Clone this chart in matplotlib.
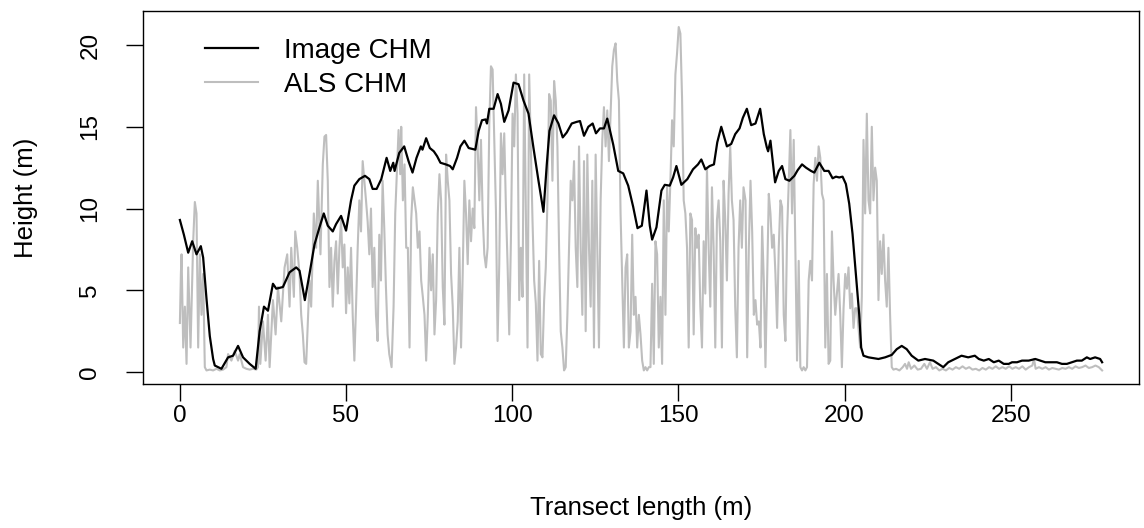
"""
Canopy height profile along a transect: image-based CHM vs ALS CHM.

Output:
    out.png
"""

import matplotlib

matplotlib.use("Agg")

import matplotlib.pyplot as plt

OUTPUT_PNG = "out.png"
DPI = 100
FIGURE_SIZE = (1144 / DPI, 528 / DPI)

IMAGE_COLOR = "#000000"
ALS_COLOR = "#BEBEBE"
FONT_SIZE = 17.5
LABEL_SIZE = 18.5
LEGEND_SIZE = 20

# Image CHM (smooth), digitised (x in m, height in m)
IMAGE_X = [
    0, 1.2, 2.5, 3.7, 5.0, 6.3, 7.0, 8.0, 9.0, 10.0, 10.5, 12.5, 14.5, 16.0,
    17.5, 19.0, 21.0, 22.8, 24.0, 25.3, 26.5, 28.0, 29.0, 31.0, 33.0, 35.0,
    36.0, 37.6, 39.0, 40.5, 42.0, 43.3, 44.5, 46.0, 47.0, 48.5, 50.0, 51.5,
    52.5, 54.0, 55.7, 57.0, 58.0, 59.2, 60.6, 62.2, 63.3, 64.2, 64.6, 66.0,
    67.5, 68.8, 70.0, 71.2, 72.5, 73.0, 74.1, 75.2, 76.4, 77.4, 78.4, 80.0,
    81.3, 82.1, 83.4, 84.4, 85.6, 86.9, 88.9, 89.9, 90.9, 92.0, 92.4, 93.1,
    94.4, 95.6, 96.6, 97.6, 98.9, 100.4, 101.9, 103.4, 104.9, 106.4, 107.9,
    109.4, 110.4, 111.2, 112.6, 113.9, 115.2, 116.4, 117.9, 119.4, 120.4,
    121.6, 122.9, 124.2, 125.2, 126.4, 127.6, 128.6, 130.4, 131.9, 133.4,
    134.9, 136.4, 137.7, 139.0, 140.4, 141.4, 142.1, 143.4, 144.9, 145.9,
    147.4, 148.4, 149.4, 150.9, 152.7, 154.4, 155.9, 156.9, 158.1, 159.4,
    160.7, 161.7, 162.9, 164.6, 165.9, 167.1, 168.4, 169.4, 170.6, 171.9,
    173.2, 174.6, 175.7, 176.6, 177.0, 177.7, 178.4, 179.1, 180.2, 181.2,
    182.2, 183.4, 184.9, 185.9, 187.2, 188.4, 189.9, 190.9, 192.4, 193.9,
    195.2, 196.4, 197.4, 198.4, 199.4, 200.4, 201.4, 202.4, 203.4, 204.4,
    205.0, 205.7, 207.2, 210.2, 212.2, 214.2, 215.7, 217.2, 218.7, 220.2,
    222.2, 224.2, 226.7, 228.2, 229.7, 231.2, 233.2, 235.2, 237.2, 239.2,
    240.4, 241.9, 243.4, 244.9, 246.4, 247.9, 249.4, 250.4, 251.9, 253.4,
    255.4, 257.4, 258.9, 260.4, 261.9, 263.9, 265.4, 266.9, 268.4, 269.9,
    271.4, 272.9, 273.9, 275.4, 276.9, 277.5,
]
IMAGE_Y = [
    9.3, 8.4, 7.3, 8.0, 7.2, 7.7, 7.0, 4.5, 2.2, 0.8, 0.4, 0.2, 0.9, 1.0,
    1.6, 0.9, 0.5, 0.2, 2.5, 4.0, 3.75, 5.4, 5.1, 5.2, 6.1, 6.4,
    6.2, 4.4, 6.0, 7.8, 8.85, 9.7, 8.95, 8.6, 9.05, 9.55, 8.65, 10.5,
    11.4, 11.8, 12.0, 11.8, 11.2, 11.2, 11.8, 13.1, 12.3, 12.8, 12.3, 13.4,
    13.8, 12.9, 12.2, 13.1, 13.8, 13.6, 14.3, 13.7, 13.5, 13.2, 12.8, 12.7,
    12.6, 12.4, 13.1, 13.8, 14.15, 13.7, 13.6, 14.75, 15.4, 15.45, 15.2, 16.1,
    16.1, 17.0, 16.4, 15.3, 16.0, 17.7, 17.6, 16.6, 15.8, 13.7, 11.7,
    9.8, 12.7, 14.75, 15.7, 15.2, 14.35, 14.65, 15.2, 15.3, 15.35,
    14.45, 15.0, 15.2, 14.6, 14.9, 14.9, 15.5, 13.9, 12.3, 12.15,
    11.4, 10.1, 8.8, 8.95, 11.1, 8.95, 8.1, 8.85, 11.1, 11.45,
    11.4, 11.9, 12.6, 11.45, 11.8, 12.4, 12.7, 13.0, 12.4, 12.6,
    12.7, 14.05, 15.0, 13.8, 13.95, 14.55, 14.9, 15.55, 16.1, 15.1,
    15.2, 16.1, 14.55, 13.75, 13.5, 14.15, 12.9, 11.6, 12.3, 12.6,
    11.8, 11.7, 12.0, 12.35, 12.7, 12.5, 12.3, 12.2, 12.8, 12.3,
    12.3, 11.85, 11.95, 11.9, 11.95, 11.5, 10.3, 8.45, 6.0, 3.55,
    1.5, 1.0, 0.9, 0.8, 0.9, 1.05, 1.4, 1.6, 1.4, 1.0,
    0.7, 0.8, 0.7, 0.5, 0.3, 0.6, 0.8, 1.0, 0.9, 1.0,
    0.8, 0.7, 0.8, 0.6, 0.7, 0.5, 0.5, 0.6, 0.6, 0.7,
    0.7, 0.8, 0.7, 0.6, 0.6, 0.6, 0.5, 0.5, 0.6, 0.7,
    0.7, 0.9, 0.8, 0.9, 0.8, 0.6,
]

# ALS CHM (spiky), digitised peaks and troughs
ALS_X = [
    0, 0.3, 0.5, 1.0, 1.5, 2.0, 2.5, 3.2, 4.0, 4.5, 5.0, 5.5, 6.0, 6.5, 7.0,
    7.5, 8.0, 9.0, 10.0, 11.0, 12.0, 13.0, 14.0, 14.5, 15.5, 16.5, 17.5,
    18.0, 19.0, 20.0, 21.0, 22.0, 23.0, 23.5, 23.8, 24.2, 25.0, 25.8, 26.5,
    27.0, 28.0, 28.8, 29.5, 30.5, 31.5, 32.3, 33.0, 33.5, 34.3, 34.7, 35.3,
    36.0, 36.5, 37.0, 37.5, 38.0, 38.5, 39.0, 39.5, 40.3, 41.0, 41.5, 42.3,
    43.0, 43.5, 44.0, 44.5, 45.0, 45.5, 46.0, 46.5, 47.0, 47.5, 48.0, 48.5,
    49.0, 49.5, 50.0, 50.5, 51.0, 51.5, 52.0, 52.5, 53.0, 53.5, 54.0, 54.5,
    55.0, 55.5, 56.0, 56.5, 57.0, 57.5, 58.0, 58.5, 59.0, 59.5, 60.0, 60.5,
    61.0, 61.5, 62.0, 62.5, 63.0, 63.7, 64.3, 64.8, 65.3, 65.8, 66.3, 66.6,
    67.1, 67.6, 68.1, 68.6, 69.1, 69.6, 70.1, 70.6, 71.1, 71.6, 72.1, 72.6,
    73.1, 73.6, 74.1, 74.6, 75.1, 75.6, 76.1, 76.6, 77.1, 77.6, 78.1, 78.6,
    79.1, 79.6, 80.1, 80.6, 81.1, 81.6, 82.1, 82.6, 83.1, 83.6, 84.1, 84.6,
    85.1, 85.6, 86.1, 86.6, 87.1, 87.6, 88.1, 88.6, 89.1, 89.6, 90.1, 90.6,
    91.1, 91.6, 92.1, 92.6, 93.1, 93.6, 94.1, 94.6, 95.1, 95.6, 96.1, 96.6,
    97.1, 97.6, 98.1, 98.6, 99.1, 99.6, 100.1, 100.6, 101.1, 101.6, 102.1,
    102.6, 103.1, 103.6, 104.1, 104.6, 105.1, 105.6, 106.1, 106.6, 107.1,
    107.6, 108.1, 108.6, 109.1, 109.6, 110.1, 110.6, 111.1, 111.6, 112.1,
    112.6, 113.1, 113.6, 114.1, 114.6, 115.1, 115.6, 116.1, 116.6, 117.1,
    117.6, 118.1, 118.6, 119.1, 119.6, 120.1, 120.6, 121.1, 121.6, 122.1,
    122.6, 123.1, 123.6, 124.1, 124.6, 125.1, 125.6, 126.1, 126.6, 127.1,
    127.6, 128.1, 128.6, 129.1, 129.6, 130.1, 130.6, 131.1, 131.6, 132.1,
    132.6, 133.1, 133.6, 134.1, 134.6, 135.1, 135.6, 136.1, 136.6, 137.1,
    137.6, 138.1, 138.6, 139.1, 139.6, 140.1, 140.6, 141.1, 141.6, 142.1,
    142.6, 143.1, 143.6, 144.1, 144.6, 145.1, 145.6, 146.1, 146.6, 147.1,
    147.6, 148.1, 148.6, 149.1, 149.6, 150.1, 150.6, 151.1, 151.6, 152.1,
    152.6, 153.1, 153.6, 154.1, 154.6, 155.1, 155.6, 156.1, 156.6, 157.1,
    157.6, 158.1, 158.6, 159.1, 159.6, 160.1, 160.6, 161.1, 161.6, 162.1,
    162.6, 163.1, 163.6, 164.1, 164.6, 165.1, 165.6, 166.1, 166.6, 167.1,
    167.6, 168.1, 168.6, 169.1, 169.6, 170.2, 170.7, 171.2, 171.7, 172.2,
    172.7, 173.2, 173.7, 174.2, 174.7, 175.2, 175.7, 176.2, 176.7, 177.2,
    177.7, 178.2, 178.7, 179.2, 179.7, 180.2, 180.7, 181.2, 181.7, 182.2,
    182.7, 183.2, 183.7, 184.2, 184.7, 185.2, 185.7, 186.2, 186.7, 187.2,
    187.7, 188.2, 188.7, 189.2, 189.7, 190.2, 190.7, 191.2, 191.7, 192.2,
    192.7, 193.2, 193.7, 194.2, 194.7, 195.2, 195.7, 196.2, 196.7, 197.2,
    197.7, 198.2, 198.7, 199.2, 199.7, 200.2, 200.7, 201.2, 201.7, 202.2,
    202.7, 203.2, 203.7, 204.2, 204.7, 205.2, 205.7, 206.2, 206.7, 207.2,
    207.7, 208.2, 208.7, 209.2, 209.7, 210.2, 210.7, 211.2, 211.7, 212.2,
    212.7, 213.2, 213.7, 214.2, 214.7, 215.5, 216.5, 217.5, 218.2, 218.8,
    219.3, 220.0, 221.0, 222.0, 223.0, 224.0, 224.8, 225.7, 226.5, 227.5,
    228.5, 229.5, 230.5, 231.5, 232.5, 233.5, 234.5, 235.5, 236.5, 237.5,
    238.5, 239.5, 240.5, 241.5, 242.5, 243.5, 244.5, 245.5, 246.5, 247.5,
    248.5, 249.5, 250.5, 251.5, 252.5, 253.5, 254.5, 255.5, 256.5, 257.0,
    257.5, 258.5, 259.5, 260.5, 261.5, 262.5, 263.5, 264.5, 265.5, 266.5,
    267.5, 268.5, 269.5, 270.5, 271.5, 272.5, 273.5, 274.5, 275.5, 276.5,
    277.5,
]
ALS_Y = [
    3.0, 6.0, 7.2, 1.5, 4.0, 0.5, 6.4, 1.5, 8.0, 10.4, 9.7, 1.5, 7.2, 3.5, 6.0,
    0.3, 0.1, 0.15, 0.1, 0.2, 0.1, 0.15, 0.3, 1.1, 0.7, 1.3, 0.7,
    1.1, 0.3, 0.2, 0.15, 0.2, 0.15, 0.3, 4.0, 0.5, 3.1, 0.7, 3.5,
    0.3, 4.4, 2.3, 5.2, 3.1, 6.4, 7.2, 4.0, 7.6, 4.6, 8.6, 7.6,
    6.0, 3.5, 2.3, 0.6, 0.5, 3.1, 5.6, 4.0, 9.7, 7.6, 11.7, 7.2,
    12.7, 14.4, 14.5, 11.7, 5.2, 7.6, 4.0, 6.8, 8.0, 4.8, 7.6, 9.3,
    6.4, 7.8, 3.6, 6.4, 4.2, 7.6, 3.5, 0.7, 4.0, 7.6, 10.5, 8.6,
    12.9, 11.7, 10.5, 9.2, 7.2, 10.0, 5.2, 7.6, 3.5, 1.9, 8.4, 5.6,
    11.7, 8.8, 5.2, 2.3, 1.1, 0.3, 4.0, 9.7, 12.3, 14.8, 12.1, 15.0,
    10.5, 12.7, 7.6, 7.6, 1.5, 9.3, 11.3, 10.5, 9.7, 7.6, 8.6, 5.6,
    4.6, 3.5, 0.7, 3.5, 7.6, 5.0, 7.2, 2.3, 4.4, 9.7, 12.1, 10.5,
    5.2, 2.9, 13.3, 11.7, 10.5, 6.0, 4.0, 0.5, 1.5, 3.1, 7.6, 1.5,
    6.0, 11.7, 9.7, 6.6, 10.5, 8.0, 10.0, 8.8, 16.2, 13.8, 10.5, 14.2,
    9.7, 7.2, 6.4, 7.6, 15.2, 18.7, 18.5, 14.2, 9.9, 1.9, 6.6, 14.6,
    12.1, 14.6, 10.1, 6.6, 2.3, 8.0, 15.8, 13.8, 18.2, 15.8, 4.4,
    7.6, 4.6, 18.2, 9.7, 1.5, 18.2, 13.8, 9.3, 5.6, 4.2,
    0.7, 6.8, 1.1, 0.9, 4.4, 6.4, 10.5, 17.0, 16.6, 11.7,
    17.8, 16.6, 13.8, 7.6, 2.5, 1.5, 0.1, 0.3, 3.5, 7.6,
    11.7, 10.5, 12.9, 7.6, 5.2, 13.8, 7.6, 3.5, 12.9, 2.5,
    13.3, 7.6, 4.0, 11.7, 1.5, 13.3, 7.6, 1.5, 10.5, 14.2,
    16.2, 13.8, 16.0, 12.9, 15.8, 18.7, 19.7, 20.1, 17.8, 16.6,
    9.7, 5.6, 1.5, 6.4, 7.2, 1.5, 2.5, 8.4, 3.5, 4.6,
    1.5, 3.5, 2.3, 0.7, 0.1, 0.3, 0.1, 0.3, 0.3, 5.4,
    0.5, 8.0, 7.2, 1.5, 4.6, 0.5, 10.5, 3.5, 11.3, 8.6,
    11.7, 15.4, 13.8, 18.2, 19.5, 21.1, 20.7, 16.8, 10.5, 9.7,
    7.6, 1.5, 9.7, 9.3, 2.3, 8.8, 7.6, 8.4, 4.0, 1.5,
    8.0, 4.8, 12.5, 7.6, 4.0, 11.3, 7.6, 1.5, 9.3, 10.5,
    8.0, 1.5, 11.7, 9.3, 5.6, 10.9, 13.8, 10.5, 9.3, 4.0,
    0.9, 7.6, 10.5, 7.6, 11.3, 10.5, 0.9, 7.6, 11.7, 8.6,
    3.5, 4.4, 2.9, 3.1, 1.5, 8.9, 5.6, 0.3, 5.6, 10.9,
    9.7, 7.6, 8.4, 6.0, 2.7, 7.6, 10.5, 10.1, 3.5, 1.9,
    8.4, 11.7, 14.8, 9.7, 14.2, 7.6, 0.7, 6.8, 0.3, 0.1,
    0.3, 0.1, 0.3, 5.6, 6.8, 5.6, 11.5, 13.1, 11.7, 13.8,
    13.1, 10.9, 10.5, 1.5, 6.0, 0.5, 0.7, 8.6, 5.6, 3.5,
    4.8, 6.0, 3.5, 0.3, 3.9, 6.0, 5.1, 6.4, 3.9, 4.8,
    2.7, 3.9, 3.9, 2.7, 1.5, 4.6, 14.2, 9.7, 15.8, 10.5,
    9.7, 15.0, 10.5, 12.5, 11.7, 4.4, 8.0, 6.0, 8.4, 5.6,
    4.0, 7.6, 3.5, 0.3, 0.15, 0.2, 0.1, 0.3, 0.5, 0.2,
    0.6, 0.2, 0.4, 0.15, 0.2, 0.5, 0.2, 0.6, 0.2, 0.3,
    0.1, 0.2, 0.1, 0.25, 0.15, 0.3, 0.2, 0.35, 0.2, 0.3,
    0.15, 0.2, 0.1, 0.25, 0.15, 0.3, 0.2, 0.35, 0.2, 0.3,
    0.2, 0.35, 0.2, 0.3, 0.2, 0.35, 0.15, 0.3, 0.4, 0.8,
    0.2, 0.3, 0.2, 0.3, 0.15, 0.25, 0.2, 0.15, 0.25, 0.2,
    0.3, 0.2, 0.35, 0.25, 0.3, 0.4, 0.25, 0.3, 0.4, 0.3,
    0.1,
]

X_TICKS = [0, 50, 100, 150, 200, 250]
Y_TICKS = [0, 5, 10, 15, 20]


def configure_matplotlib() -> None:
    plt.rcParams.update(
        {
            "font.family": "sans-serif",
            "font.sans-serif": ["Liberation Sans", "DejaVu Sans"],
            "font.size": FONT_SIZE,
            "axes.linewidth": 1.0,
            "xtick.major.size": 12,
            "ytick.major.size": 12,
            "xtick.major.width": 1.0,
            "ytick.major.width": 1.0,
        }
    )


def main() -> None:
    configure_matplotlib()
    fig = plt.figure(figsize=FIGURE_SIZE, dpi=DPI)
    ax = fig.add_axes([143 / 1144, 1 - 384 / 528, (1139 - 143) / 1144, (384 - 11) / 528])

    ax.plot(ALS_X, ALS_Y, color=ALS_COLOR, linewidth=1.5, label="ALS CHM")
    ax.plot(IMAGE_X, IMAGE_Y, color=IMAGE_COLOR, linewidth=1.6, label="Image CHM")

    ax.set_xlim(-11.1, 288.6)
    ax.set_ylim(-0.73, 22.08)
    ax.set_xticks(X_TICKS)
    ax.set_yticks(Y_TICKS)
    ax.set_yticklabels([str(v) for v in Y_TICKS], rotation=90, va="center")
    ax.tick_params(axis="x", pad=3)
    ax.tick_params(axis="y", pad=18)

    ax.set_xlabel("Transect length (m)", fontsize=LABEL_SIZE, labelpad=50)
    ax.set_ylabel("Height (m)", fontsize=LABEL_SIZE, labelpad=30)

    handles, labels = ax.get_legend_handles_labels()
    ax.legend(
        handles[::-1],
        labels[::-1],
        loc="upper left",
        bbox_to_anchor=(0.062, 0.928),
        frameon=False,
        fontsize=LEGEND_SIZE,
        borderpad=0,
        borderaxespad=0,
        handlelength=1.9,
        handletextpad=0.97,
        labelspacing=0.3,
    )

    fig.savefig(OUTPUT_PNG, dpi=DPI, facecolor="white")
    plt.close(fig)


if __name__ == "__main__":
    main()
